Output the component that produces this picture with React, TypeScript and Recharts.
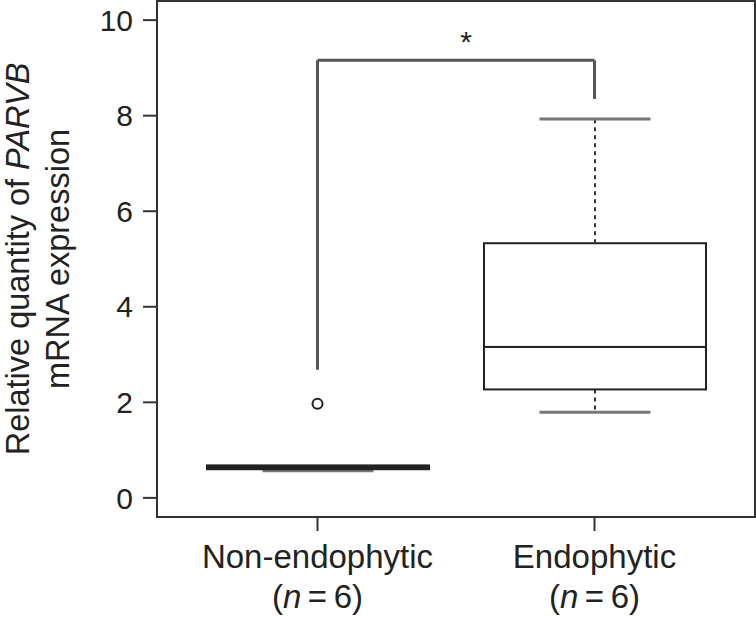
import React from 'react';
import { ComposedChart, Bar, Scatter, XAxis, YAxis, ReferenceLine } from 'recharts';

// box plot summary per group
const groups = ['Non-endophytic', 'Endophytic'];
const groupN = [6, 6];
const whiskerLow = [0.57, 1.79];
const quartile1 = [0.6, 2.27];
const medians = [0.64, 3.16];
const quartile3 = [0.68, 5.33];
const whiskerHigh = [0.68, 7.93];
const outliers: (number | null)[] = [1.97, null];
const yTicks = [0, 2, 4, 6, 8, 10];
const yDomain = [-0.4, 10.4];

// significance bracket
const bracketY = 9.16;
const bracketLeftEnd = 2.68;
const bracketRightEnd = 8.35;
const significance = '*';

const data = groups.map((name, i) => ({
  name,
  n: groupN[i],
  base: whiskerLow[i],
  lowWhisker: quartile1[i] - whiskerLow[i],
  boxLow: medians[i] - quartile1[i],
  boxHigh: quartile3[i] - medians[i],
  highWhisker: whiskerHigh[i] - quartile3[i],
  outlier: outliers[i],
}));

const W = 756;
const H = 617;
const MARGIN = { top: 1, right: 1, bottom: 0, left: 0 };
const INK = '#222';
const LINE = '#333';
const FONT = '"Liberation Sans", Arial, Helvetica, sans-serif';

const LowerWhisker = (p: any) => {
  const { x, y, width, height } = p;
  const cx = x + width / 2;
  return (
    <g>
      <line x1={cx} x2={cx} y1={y} y2={y + height} stroke={LINE} strokeWidth={2} strokeDasharray="4 4" />
      <line x1={cx - width / 4} x2={cx + width / 4} y1={y + height} y2={y + height} stroke="#777" strokeWidth={3} />
    </g>
  );
};

const UpperWhisker = (p: any) => {
  const { x, y, width, height } = p;
  if (!height) return <g />;
  const cx = x + width / 2;
  return (
    <g>
      <line x1={cx} x2={cx} y1={y + height} y2={y} stroke={LINE} strokeWidth={2} strokeDasharray="4 4" />
      <line x1={cx - width / 4} x2={cx + width / 4} y1={y} y2={y} stroke="#777" strokeWidth={3} />
    </g>
  );
};

const BoxPart = (p: any) => {
  const { x, y, width, height } = p;
  return <rect x={x} y={y} width={width} height={height} fill="#fff" stroke={INK} strokeWidth={2} />;
};

const Outlier = (p: any) => {
  if (p.payload == null || p.payload.outlier == null) return <g />;
  return <circle cx={p.cx} cy={p.cy} r={5} fill="none" stroke={INK} strokeWidth={2} />;
};

const GroupTick = (p: any) => {
  const { x, y, payload } = p;
  const row = data.find((d) => d.name === payload.value);
  return (
    <g fill={INK} fontSize={33} fontFamily={FONT}>
      <text x={x} y={y + 37} textAnchor="middle">{payload.value}</text>
      <text x={x} y={y + 77} textAnchor="middle">
        (<tspan fontStyle="italic">n</tspan>{'\u2009=\u2009'}{row ? row.n : ''})
      </text>
    </g>
  );
};

// y title plus the plot frame (drawn from the axis viewBox)
const YLabel = (p: any) => {
  const vb = p.viewBox || { x: 0, y: 1, width: 157, height: 516 };
  const left = vb.x + vb.width;
  return (
    <g>
      <rect x={left} y={vb.y} width={W - MARGIN.right - left} height={vb.height} fill="none" stroke={LINE} strokeWidth={2} />
      <g fill={INK} fontSize={32.5} fontFamily={FONT}>
        <text transform="translate(29,259) rotate(-90)" textAnchor="middle">
          Relative quantity of <tspan fontStyle="italic">PARVB</tspan>
        </text>
        <text transform="translate(69,259) rotate(-90)" textAnchor="middle">
          mRNA expression
        </text>
      </g>
    </g>
  );
};

const StarLabel = (p: any) => {
  const vb = p.viewBox || {};
  return (
    <text x={vb.x + vb.width / 2 + 10} y={vb.y - 8} textAnchor="middle" fill={INK} fontSize={30} fontFamily={FONT}>
      {significance}
    </text>
  );
};

const bracketStroke = { stroke: '#555', strokeWidth: 3 };

export default function App() {
  return (
    <div style={{ position: 'absolute', left: 0, top: 0, background: '#fff' }}>
      <ComposedChart width={W} height={H} data={data} margin={MARGIN}>
        <XAxis
          dataKey="name"
          type="category"
          padding={{ left: 22, right: 22 }}
          height={100}
          tickSize={14}
          tickMargin={0}
          tick={<GroupTick />}
          axisLine={{ stroke: LINE, strokeWidth: 2 }}
          tickLine={{ stroke: LINE, strokeWidth: 2 }}
        />
        <YAxis
          type="number"
          domain={yDomain}
          ticks={yTicks}
          width={157}
          tickSize={14}
          tickMargin={10}
          tick={{ fill: INK, fontSize: 30, fontFamily: FONT }}
          axisLine={{ stroke: LINE, strokeWidth: 2 }}
          tickLine={{ stroke: LINE, strokeWidth: 2 }}
          label={<YLabel />}
        />
        <Bar dataKey="base" stackId="box" barSize={222} fill="none" isAnimationActive={false} />
        <Bar dataKey="lowWhisker" stackId="box" barSize={222} shape={<LowerWhisker />} isAnimationActive={false} />
        <Bar dataKey="boxLow" stackId="box" barSize={222} shape={<BoxPart />} isAnimationActive={false} />
        <Bar dataKey="boxHigh" stackId="box" barSize={222} shape={<BoxPart />} isAnimationActive={false} />
        <Bar dataKey="highWhisker" stackId="box" barSize={222} shape={<UpperWhisker />} isAnimationActive={false} />
        <Scatter dataKey="outlier" shape={<Outlier />} isAnimationActive={false} />
        <ReferenceLine segment={[{ x: groups[0], y: bracketLeftEnd }, { x: groups[0], y: bracketY }]} {...bracketStroke} />
        <ReferenceLine
          segment={[{ x: groups[0], y: bracketY }, { x: groups[1], y: bracketY }]}
          {...bracketStroke}
          label={<StarLabel />}
        />
        <ReferenceLine segment={[{ x: groups[1], y: bracketY }, { x: groups[1], y: bracketRightEnd }]} {...bracketStroke} />
      </ComposedChart>
    </div>
  );
}
